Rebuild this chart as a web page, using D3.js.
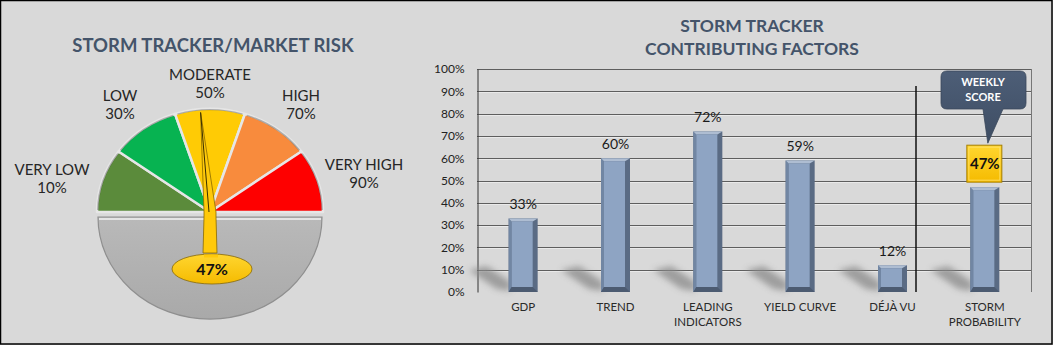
<!DOCTYPE html>
<html><head><meta charset="utf-8">
<script src="https://cdn.jsdelivr.net/npm/d3@7"></script>
<style>html,body{margin:0;padding:0;background:#d9d9d9;}svg{display:block;}</style>
</head><body>
<svg id="c" width="1053" height="345"></svg>
<script>
// ---- data ----
const gaugeLabels = ["VERY LOW","LOW","MODERATE","HIGH","VERY HIGH"];
const gaugeLevels = [0.10,0.30,0.50,0.70,0.90];
const gaugeColors = ["#5b8b3b","#07b351","#ffcb05","#f88b3d","#fe0000"];
const gaugeValue = 0.47;

const categories = [["GDP"],["TREND"],["LEADING","INDICATORS"],["YIELD CURVE"],["DÉJÀ VU"],["STORM","PROBABILITY"]];
const values = [0.33,0.60,0.72,0.59,0.12,0.47];
const yTicks = [0,0.1,0.2,0.3,0.4,0.5,0.6,0.7,0.8,0.9,1.0];

const svg = d3.select("#c");
const font = "Lato, 'Open Sans', sans-serif";
const defs = svg.append("defs");
defs.append("filter").attr("id","blur").attr("x","-50%").attr("y","-50%").attr("width","200%").attr("height","200%")
  .append("feGaussianBlur").attr("stdDeviation",3);
const gGray = defs.append("linearGradient").attr("id","gray").attr("x1",0).attr("y1",0).attr("x2",0).attr("y2",1);
gGray.append("stop").attr("offset","0").attr("stop-color","#b9b9b9");
gGray.append("stop").attr("offset","1").attr("stop-color","#a9a9a9");
const gNavy = defs.append("linearGradient").attr("id","navy").attr("x1",0).attr("y1",0).attr("x2",0).attr("y2",1);
gNavy.append("stop").attr("offset","0").attr("stop-color","#4d5e77");
gNavy.append("stop").attr("offset","1").attr("stop-color","#3e4d63");
const gYel = defs.append("linearGradient").attr("id","yel").attr("x1",0).attr("y1",0).attr("x2",0).attr("y2",1);
gYel.append("stop").attr("offset","0").attr("stop-color","#ffd630");
gYel.append("stop").attr("offset","1").attr("stop-color","#f5bb00");

// background + border
svg.append("rect").attr("x",0.5).attr("y",0.5).attr("width",1051.5).attr("height",343.5)
  .attr("fill","#d9d9d9").attr("stroke","#000").attr("stroke-width",1.5);

// ================= GAUGE =================
const cx = 210, cy = 212, R = 113, ry = 103;
svg.append("text").attr("x",213).attr("y",52).attr("text-anchor","middle")
  .attr("font-family",font).attr("font-weight","bold").attr("font-size",18.5)
  .attr("fill","#44546a").text("STORM TRACKER/MARKET RISK");

// bottom gray half
const gBottom = svg.append("g").attr("transform",`translate(${cx},${cy+5}) scale(1,${ry/R})`);
gBottom.append("path")
  .attr("d", d3.arc().innerRadius(0).outerRadius(R-1).startAngle(Math.PI/2).endAngle(Math.PI*1.5)())
  .attr("fill","url(#gray)").attr("stroke","#8f8f8f").attr("stroke-width",1.2)
  .attr("vector-effect","non-scaling-stroke");
svg.append("line").attr("x1",cx-R+2).attr("x2",cx+R-2).attr("y1",cy+7).attr("y2",cy+7)
  .attr("stroke","#e4e4e4").attr("stroke-width",2);

// top segments
const pie = d3.pie().sort(null).value(() => 1).startAngle(-Math.PI/2).endAngle(Math.PI/2);
const arcs = pie(gaugeLevels);
const arcGen = d3.arc().innerRadius(0).outerRadius(R);
const gTop = svg.append("g").attr("transform",`translate(${cx},${cy}) scale(1,${ry/R})`);
gTop.selectAll("path.seg").data(arcs).join("path").attr("class","seg")
  .attr("d", arcGen)
  .attr("fill",(d,i)=>gaugeColors[i])
  .attr("stroke","#e6e6e6").attr("stroke-width",2.5)
  .attr("stroke-linejoin","round")
  .attr("vector-effect","non-scaling-stroke");
// subtle dark rim on outer edge
const rimArc = d3.arc().innerRadius(R-1.5).outerRadius(R);
gTop.selectAll("path.rim").data(arcs).join("path").attr("class","rim")
  .attr("d", d => rimArc({startAngle:d.startAngle+0.02,endAngle:d.endAngle-0.02}))
  .attr("fill","#000").attr("opacity",0.25);

// gauge labels
const lblPos = [[52,175],[120,101],[210,80],[301,101],[364,170]];
gaugeLabels.forEach((t,i)=>{
  const g = svg.append("text").attr("text-anchor","middle").attr("font-family",font)
    .attr("font-size",15).attr("fill","#262626");
  g.append("tspan").attr("x",lblPos[i][0]).attr("y",lblPos[i][1]).text(t);
  g.append("tspan").attr("x",lblPos[i][0]).attr("y",lblPos[i][1]+18).text(d3.format(".0%")(gaugeLevels[i]));
});

// needle
const ang = Math.PI * gaugeValue; // from left
const L = 100;
const tipX = cx - Math.cos(ang)*L, tipY = cy - Math.sin(ang)*(L);
const needle = d3.path();
needle.moveTo(tipX, tipY);
needle.lineTo(cx+6, cy);
needle.lineTo(cx+6, cy+5);
needle.lineTo(cx+7, cy+41);
needle.lineTo(cx-7, cy+41);
needle.lineTo(cx-6, cy+5);
needle.lineTo(cx-6, cy);
needle.closePath();
svg.append("path").attr("d",needle.toString()).attr("fill","#ffc90a")
  .attr("stroke","#8a6a00").attr("stroke-width",0.8);
svg.append("line").attr("x1",tipX).attr("y1",tipY).attr("x2",cx-1).attr("y2",cy)
  .attr("stroke","#3a3000").attr("stroke-width",1);
svg.append("ellipse").attr("cx",cx+2).attr("cy",cy+57).attr("rx",40).attr("ry",15)
  .attr("fill","url(#yel)").attr("stroke","#8a6a00").attr("stroke-width",0.8);
svg.append("path").attr("d",`M${cx-6},${cy+44} L${cx+8},${cy+44}`).attr("stroke","#ffc90a").attr("stroke-width",3);
svg.append("text").attr("x",cx+2).attr("y",cy+63).attr("text-anchor","middle")
  .attr("font-family",font).attr("font-weight","bold").attr("font-size",16).attr("fill","#111")
  .text(d3.format(".0%")(gaugeValue));

// ================= BAR CHART =================
const x0 = 477, x1 = 1031, yTop = 69, yBot = 292;
svg.append("text").attr("text-anchor","middle").attr("font-family",font).attr("font-weight","bold")
  .attr("font-size",17.5).attr("fill","#44546a")
  .call(t=>{t.append("tspan").attr("x",752).attr("y",32).text("STORM TRACKER");
            t.append("tspan").attr("x",752).attr("y",55).text("CONTRIBUTING FACTORS");});

const xs = d3.scaleBand().domain(d3.range(categories.length)).range([x0,x1]);
const ys = d3.scaleLinear().domain([0,1]).range([yBot,yTop]);

// gridlines
svg.append("g").selectAll("line").data(yTicks.filter(d=>d>0)).join("line")
  .attr("x1",x0).attr("x2",x1).attr("y1",d=>Math.round(ys(d))+0.5).attr("y2",d=>Math.round(ys(d))+0.5)
  .attr("stroke","#5e5e5e").attr("stroke-width",1);
svg.append("g").selectAll("line").data(yTicks.filter(d=>d>0 && d<1)).join("line")
  .attr("x1",x0).attr("x2",x1).attr("y1",d=>Math.round(ys(d))+1.5).attr("y2",d=>Math.round(ys(d))+1.5)
  .attr("stroke","#f2f2f2").attr("stroke-width",1).attr("opacity",0.7);

// axis
const yAxis = d3.axisLeft(ys).tickValues(yTicks).tickFormat(d3.format(".0%")).tickSize(0).tickPadding(13);
const ag = svg.append("g").attr("transform",`translate(${x0+0.5},0)`).call(yAxis);
ag.select(".domain").attr("stroke","#333").attr("stroke-width",1);
ag.selectAll("text").attr("font-family",font).attr("font-size",12).attr("fill","#222");
svg.append("line").attr("x1",x1+0.5).attr("x2",x1+0.5).attr("y1",yTop).attr("y2",yBot).attr("stroke","#777");

// separator
svg.append("line").attr("x1",916).attr("x2",916).attr("y1",86).attr("y2",yBot)
  .attr("stroke","#111").attr("stroke-width",1.5);

const bw = 29;
// shadows
svg.append("g").selectAll("path").data(values).join("path")
  .attr("d",(d,i)=>{
    const bx = xs(i)+xs.bandwidth()/2-bw/2;
    return `M${bx-40},${yBot-22} L${bx-22},${yBot-26} L${bx+2},${yBot-10} L${bx+2},${yBot-1} L${bx-12},${yBot-3} Z`;
  })
  .attr("fill","#8a8a8a").attr("opacity",0.75).attr("filter","url(#blur)");

// bars with bevel
const bars = svg.append("g").selectAll("g").data(values).join("g")
  .attr("transform",(d,i)=>`translate(${xs(i)+xs.bandwidth()/2-bw/2},0)`);
bars.append("rect").attr("x",0).attr("width",bw).attr("y",d=>ys(d)).attr("height",d=>yBot-ys(d))
  .attr("fill","#5a6b84");
// left face
bars.append("path").attr("d",d=>{const t=ys(d);return `M0,${t} L3,${t+3} L3,${yBot-5} L0,${yBot} Z`;})
  .attr("fill","#7186a3");
// top face
bars.append("path").attr("d",d=>{const t=ys(d);return `M0,${t} L${bw},${t} L${bw-5},${t+3} L3,${t+3} Z`;})
  .attr("fill","#aebdd2");
// bottom face
bars.append("path").attr("d",d=>{return `M0,${yBot} L3,${yBot-5} L${bw-5},${yBot-5} L${bw},${yBot} Z`;})
  .attr("fill","#4c5b71");
// front
bars.append("rect").attr("x",3).attr("width",bw-8).attr("y",d=>ys(d)+3).attr("height",d=>Math.max(0,yBot-ys(d)-8))
  .attr("fill","#8ea4c3");

// data labels (all except last)
svg.append("g").selectAll("text").data(values.slice(0,-1)).join("text")
  .attr("x",(d,i)=>xs(i)+xs.bandwidth()/2).attr("y",d=>ys(d)-9)
  .attr("text-anchor","middle").attr("font-family",font).attr("font-size",14).attr("fill","#1a1a1a")
  .text(d3.format(".0%"));

// highlighted last label
const li = values.length-1, lv = values[li];
const lx = xs(li)+xs.bandwidth()/2;
const bTop = ys(lv)-42, bBot = ys(lv)-5;
svg.append("rect").attr("x",lx-18).attr("y",bTop).attr("width",35).attr("height",bBot-bTop)
  .attr("fill","url(#yel)").attr("stroke","#a67f00").attr("stroke-width",1);
svg.append("rect").attr("x",lx-16).attr("y",bTop+2).attr("width",31).attr("height",bBot-bTop-4)
  .attr("fill","none").attr("stroke","#ffe470").attr("stroke-width",1).attr("opacity",0.8);
svg.append("text").attr("x",lx).attr("y",(bTop+bBot)/2+5.5).attr("text-anchor","middle")
  .attr("font-family",font).attr("font-weight","bold").attr("font-size",15).attr("fill","#111")
  .text(d3.format(".0%")(lv));

// callout
const cl = 941, cr = 1026, ct = 71, cb = 109;
const cp = d3.path();
cp.moveTo(cl+6,ct); cp.lineTo(cr-6,ct); cp.quadraticCurveTo(cr,ct,cr,ct+6);
cp.lineTo(cr,cb-6); cp.quadraticCurveTo(cr,cb,cr-6,cb);
cp.lineTo(1003,cb); cp.lineTo(lx+3,bTop-2); cp.lineTo(983,cb);
cp.lineTo(cl+6,cb); cp.quadraticCurveTo(cl,cb,cl,cb-6);
cp.lineTo(cl,ct+6); cp.quadraticCurveTo(cl,ct,cl+6,ct); cp.closePath();
svg.append("path").attr("d",cp.toString()).attr("fill","url(#navy)").attr("stroke","#3a475a").attr("stroke-width",0.8);
svg.append("text").attr("text-anchor","middle").attr("font-family",font).attr("font-weight","bold")
  .attr("font-size",11).attr("fill","#fff")
  .call(t=>{t.append("tspan").attr("x",983).attr("y",86).text("WEEKLY");
            t.append("tspan").attr("x",983).attr("y",101).text("SCORE");});

// category labels
const cat = svg.append("g").selectAll("text").data(categories).join("text")
  .attr("text-anchor","middle").attr("font-family",font).attr("font-size",11.5).attr("fill","#2a2a2a");
cat.each(function(lines,i){
  const t = d3.select(this);
  lines.forEach((s,k)=>t.append("tspan").attr("x",xs(i)+xs.bandwidth()/2).attr("y",311+k*15).text(s));
});
</script>
</body></html>
